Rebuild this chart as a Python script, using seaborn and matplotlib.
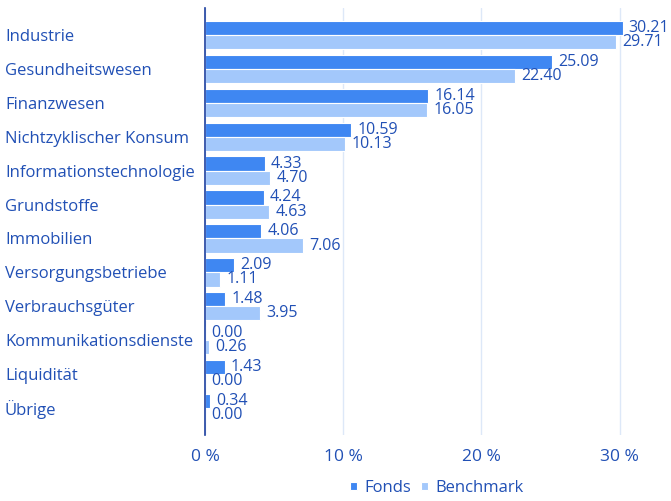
import pandas as pd
import seaborn as sns
import matplotlib.pyplot as plt

# Sector weights (%)
sectors = ['Industrie', 'Gesundheitswesen', 'Finanzwesen', 'Nichtzyklischer Konsum',
           'Informationstechnologie', 'Grundstoffe', 'Immobilien', 'Versorgungsbetriebe',
           'Verbrauchsgüter', 'Kommunikationsdienste', 'Liquidität', 'Übrige']
fonds = [30.21, 25.09, 16.14, 10.59, 4.33, 4.24, 4.06, 2.09, 1.48, 0.00, 1.43, 0.34]
benchmark = [29.71, 22.40, 16.05, 10.13, 4.70, 4.63, 7.06, 1.11, 3.95, 0.26, 0.00, 0.00]
x_ticks = [0, 10, 20, 30]

text_col = '#2150b5'
colors = {'Fonds': '#3f87f2', 'Benchmark': '#a3c8fb'}

df = pd.DataFrame({
    'Sektor': sectors * 2,
    'Wert': fonds + benchmark,
    'Serie': ['Fonds'] * len(sectors) + ['Benchmark'] * len(sectors),
})

sns.set_style('white')
plt.rcParams['font.family'] = ['Open Sans', 'DejaVu Sans']

fig = plt.figure(figsize=(6.71, 5.01), dpi=100)
ax = fig.add_axes([205 / 671, 1 - 435 / 501, (668 - 205) / 671, (435 - 8) / 501])

sns.barplot(data=df, y='Sektor', x='Wert', hue='Serie', orient='h',
            palette=colors, saturation=1, width=0.84, edgecolor='white',
            linewidth=0.8, ax=ax, legend=True)

for cont in ax.containers:
    ax.bar_label(cont, fmt='%.2f', padding=4.5, color=text_col, fontsize=11.5)

ax.set_xlim(0, 33.5)
ax.set_ylim(len(sectors) - 0.2, -0.8)
ax.set_xticks(x_ticks)
ax.set_xticklabels([f'{t} %' for t in x_ticks])
ax.grid(axis='x', color='#dde8f8', linewidth=1)
ax.set_axisbelow(True)
for s in ['top', 'right', 'bottom']:
    ax.spines[s].set_visible(False)
ax.spines['left'].set_color('#1c3f9f')
ax.spines['left'].set_linewidth(1.2)

ax.tick_params(axis='x', length=0, pad=10, labelsize=12.5, labelcolor=text_col)
ax.tick_params(axis='y', length=0, pad=200 * 0.72, labelsize=12, labelcolor=text_col)
for lbl in ax.get_yticklabels():
    lbl.set_horizontalalignment('left')
ax.set_xlabel('')
ax.set_ylabel('')

handles, labels = ax.get_legend_handles_labels()
ax.legend(handles, labels, loc='center', bbox_to_anchor=(0.5, -0.124),
          ncol=2, frameon=False, fontsize=12, labelcolor=text_col,
          handlelength=0.45, handleheight=0.45, handletextpad=0.4,
          columnspacing=0.6, borderpad=0)

fig.savefig('out.png', dpi=100)
